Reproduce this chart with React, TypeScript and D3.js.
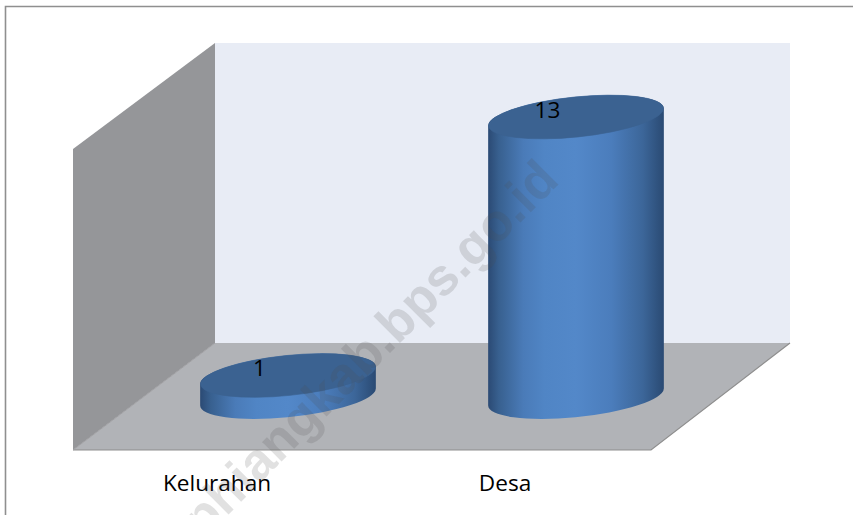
import React from "react";
import * as d3 from "d3";

const categories = ["Kelurahan", "Desa"];
const values = [1, 13];
const watermark = "phiangkab.bps.go.id";

const W = 853;
const H = 515;
const x = d3.scaleBand<string>().domain(categories).range([144, 720]).paddingInner(0.39).paddingOuter(0.195);
const y = d3.scaleLinear().domain([0, 13]).range([397, 117]);
const labelShift = -71;

const rot = -5.9;
const ry = 20;
const dy = 8.5;

const polygon = d3.line<[number, number]>();
const leftWall: [number, number][] = [[73, 149], [215, 43], [215, 343], [73, 450]];
const backWall: [number, number][] = [[215, 43], [790, 43], [790, 343], [215, 343]];
const floor: [number, number][] = [[73, 450], [215, 343], [790, 343], [651, 450]];

const gradientStops: [string, string][] = [
  ["0%", "#2b4a74"],
  ["6%", "#38608f"],
  ["20%", "#4a7bb8"],
  ["32%", "#5085c5"],
  ["50%", "#5388c9"],
  ["70%", "#4b7dbc"],
  ["88%", "#3c6699"],
  ["100%", "#2a4a73"],
];

const fontStack = "'Open Sans', sans-serif";

export default function App() {
  return (
    <svg
      width={W}
      height={H}
      viewBox={`0 0 ${W} ${H}`}
      style={{ position: "absolute", left: 0, top: 0, background: "#fff" }}
    >
      <defs>
        <linearGradient id="cyl" x1="0" x2="1" y1="0" y2="0">
          {gradientStops.map(([o, c]) => (
            <stop key={o} offset={o} stopColor={c} />
          ))}
        </linearGradient>
      </defs>
      <path d={`M5.5,${H}V6.5H${W}`} fill="none" stroke="#8f8f8f" strokeWidth={1.6} />

      <path d={polygon(backWall)! + "Z"} fill="#e8ecf5" />
      <path d={polygon(leftWall)! + "Z"} fill="#959699" />
      <path d={polygon(floor)! + "Z"} fill="#b1b3b7" />
      <path d="M73,450H651L790,343" fill="none" stroke="#8e8e8e" strokeWidth={1.2} />
      <path d="M73,450L215,343" fill="none" stroke="#a0a0a3" strokeWidth={1} />

      {categories.map((c, i) => {
        const rx = x.bandwidth() / 2;
        const cx = x(c)! + rx;
        const yTop = y(values[i]);
        const y0 = y(0);
        const body = `M${cx - rx},${yTop + dy}L${cx - rx},${y0 + dy}A${rx},${ry} ${rot} 0 0 ${cx + rx},${y0 - dy}L${cx + rx},${yTop - dy}A${rx},${ry} ${rot} 0 0 ${cx - rx},${yTop + dy}Z`;
        return (
          <g key={c}>
            <path d={body} fill="url(#cyl)" />
            <ellipse
              cx={cx}
              cy={yTop}
              rx={rx}
              ry={ry}
              transform={`rotate(${rot} ${cx} ${yTop})`}
              fill="#3b6291"
              stroke="#3b6291"
              strokeWidth={0.6}
            />
            <text
              x={cx - 28.5}
              y={yTop + 1}
              textAnchor="middle"
              fontFamily={fontStack}
              fontSize={22.6}
              fill="#000"
            >
              {values[i]}
            </text>
            <text
              x={cx + labelShift}
              y={491}
              textAnchor="middle"
              fontFamily={fontStack}
              fontSize={22.6}
              fill="#000"
            >
              {c}
            </text>
          </g>
        );
      })}

      <text
        transform="translate(561,182) rotate(-45)"
        textAnchor="end"
        fontFamily="'Liberation Sans', Arial, sans-serif"
        fontWeight={700}
        fontSize={52}
        fill="#505050"
        fillOpacity={0.17}
      >
        {watermark}
      </text>
    </svg>
  );
}
